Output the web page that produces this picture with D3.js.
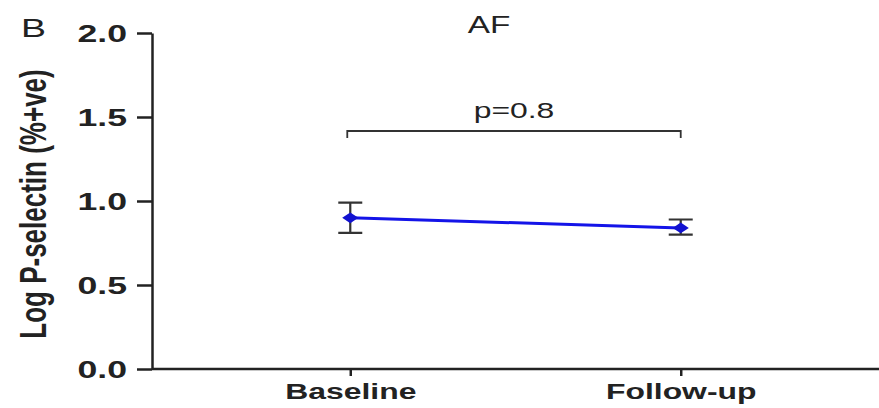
<!DOCTYPE html>
<html>
<head>
<meta charset="utf-8">
<script src="https://cdn.jsdelivr.net/npm/d3@7"></script>
<style>
  body { margin: 0; background: #fff; }
  text { font-family: "Liberation Sans", Arial, sans-serif; fill: #222; }
</style>
</head>
<body>
<svg width="879" height="408"></svg>
<script>
// chart values
const groups = ['Baseline', 'Follow-up'];
const means = [0.90, 0.84];
const lower = [0.81, 0.80];
const upper = [0.99, 0.89];
const yTicks = [0.0, 0.5, 1.0, 1.5, 2.0];
const pLabel = 'p=0.8';

const svg = d3.select('svg');
const stretch = 1.45; // the figure is squeezed wide

const margin = { top: 33, left: 152, bottom: 39, right: 0 };
const width = +svg.attr('width');
const height = +svg.attr('height');

const xScale = d3.scalePoint()
  .domain(groups)
  .range([margin.left, width - margin.right])
  .padding(0.6);

const yScale = d3.scaleLinear()
  .domain([0, 2])
  .range([height - margin.bottom, margin.top]);

const data = groups.map((g, i) => ({ g, m: means[i], lo: lower[i], hi: upper[i] }));

// y axis
const yAxis = d3.axisLeft(yScale)
  .tickValues(yTicks)
  .tickFormat(d3.format('.1f'))
  .tickSize(15)
  .tickSizeOuter(0)
  .tickPadding(10);

const yAxisG = svg.append('g')
  .attr('transform', `translate(${margin.left},0)`)
  .call(yAxis);

yAxisG.select('.domain').attr('stroke', '#222').attr('stroke-width', 2.5);
yAxisG.selectAll('.tick line').attr('stroke', '#222').attr('stroke-width', 2.5);
yAxisG.selectAll('.tick text')
  .attr('font-size', 23)
  .attr('font-weight', 'bold')
  .attr('font-family', '"Liberation Sans", Arial, sans-serif')
  .attr('fill', '#222')
  .attr('dy', '0.36em')
  .attr('transform', `translate(-25,0) scale(1.55,1) translate(25,0)`);

// x axis
const xAxis = d3.axisBottom(xScale)
  .tickSize(7)
  .tickSizeOuter(0)
  .tickPadding(10);

const xAxisG = svg.append('g')
  .attr('transform', `translate(0,${yScale(0)})`)
  .call(xAxis);

xAxisG.select('.domain')
  .attr('d', `M${margin.left},0H${width}`)
  .attr('stroke', '#222').attr('stroke-width', 2.5);
xAxisG.selectAll('.tick line').attr('stroke', '#222').attr('stroke-width', 2.5);
xAxisG.selectAll('.tick text')
  .attr('font-size', 22)
  .attr('font-weight', 'bold')
  .attr('font-family', '"Liberation Sans", Arial, sans-serif')
  .attr('fill', '#222')
  .attr('dy', '0.6em')
  .attr('transform', `scale(${stretch},1)`);

// y axis title
svg.append('text')
  .text('Log P-selectin (%+ve)')
  .attr('font-size', 26)
  .attr('font-weight', 'bold')
  .attr('text-anchor', 'middle')
  .attr('transform', `translate(46,${(yScale(0) + yScale(2)) / 2 + 3}) scale(${stretch},1) rotate(-90)`);

// panel letter and title
svg.append('text')
  .text('B')
  .attr('font-size', 25)
  .attr('transform', `translate(21,37) scale(1.5,1)`);

svg.append('text')
  .text('AF')
  .attr('font-size', 23)
  .attr('text-anchor', 'middle')
  .attr('transform', `translate(489,33) scale(${stretch},1)`);

// error bars
const capHalf = 12;
const err = svg.append('g')
  .attr('stroke', '#333')
  .attr('stroke-width', 2.2)
  .attr('fill', 'none');

err.selectAll('path')
  .data(data)
  .enter()
  .append('path')
  .attr('d', d => {
    const x = xScale(d.g), y0 = yScale(d.lo), y1 = yScale(d.hi);
    return `M${x - capHalf},${y1}H${x + capHalf}M${x},${y1}V${y0}M${x - capHalf},${y0}H${x + capHalf}`;
  });

// connecting line
const line = d3.line()
  .x(d => xScale(d.g))
  .y(d => yScale(d.m));

svg.append('path')
  .datum(data)
  .attr('d', line)
  .attr('fill', 'none')
  .attr('stroke', '#1414e8')
  .attr('stroke-width', 3);

// diamond markers
const symbol = d3.symbol(d3.symbolSquare, 58);
svg.selectAll('.marker')
  .data(data)
  .enter()
  .append('path')
  .attr('class', 'marker')
  .attr('d', symbol)
  .attr('fill', '#1212d0')
  .attr('transform', d => `translate(${xScale(d.g)},${yScale(d.m)}) scale(1.5,1) rotate(45)`);

// significance bracket
const bx0 = xScale(groups[0]) - 3;
const bx1 = xScale(groups[1]);
const by = 131;
svg.append('path')
  .attr('d', `M${bx0},${by + 7}V${by}H${bx1}V${by + 7}`)
  .attr('fill', 'none')
  .attr('stroke', '#333')
  .attr('stroke-width', 1.8);

svg.append('text')
  .text(pLabel)
  .attr('font-size', 22)
  .attr('text-anchor', 'middle')
  .attr('transform', `translate(${(bx0 + bx1) / 2},118) scale(${stretch},1)`);
</script>
</body>
</html>
